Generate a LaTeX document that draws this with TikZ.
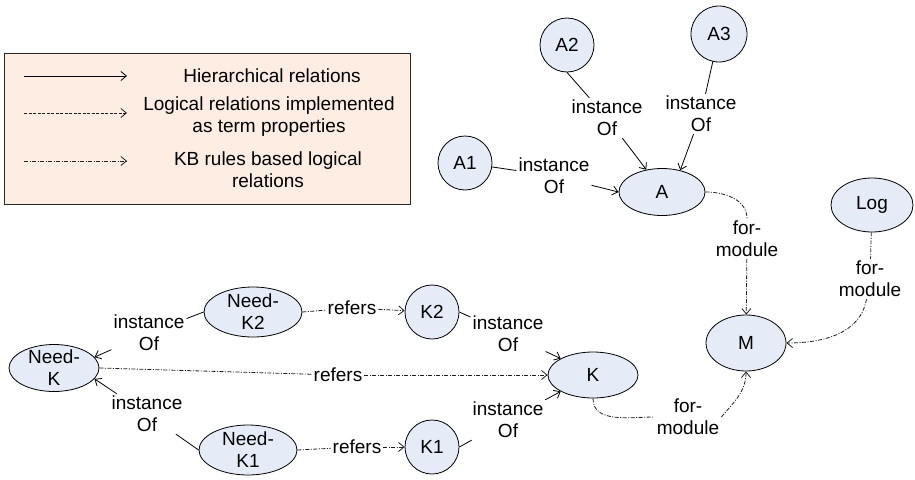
\documentclass[tikz,border=0pt]{standalone}
\usepackage{fontspec}
\setmainfont{Liberation Sans}
\usetikzlibrary{shapes.geometric,arrows.meta}
\definecolor{nodefill}{RGB}{230,236,247}
\definecolor{legendfill}{RGB}{253,237,226}
\definecolor{linkgray}{RGB}{30,30,30}
\begin{document}
\begin{tikzpicture}[x=1pt,y=-1pt,
  font=\fontsize{19}{22}\selectfont,
  concept/.style={ellipse, draw=black, line width=0.8pt, fill=nodefill, inner sep=0pt},
  inst/.style={circle, draw=black, line width=0.8pt, fill=nodefill, inner sep=0pt, minimum size=54pt},
  rel/.style={align=center, inner sep=2pt},
  tip/.style={-{Straight Barb[length=5.5pt,width=9pt]}},
  hier/.style={draw=black, line width=0.8pt},
  hierarrow/.style={hier, tip},
  termprop/.style={draw=linkgray, line width=0.8pt, dash pattern=on 3pt off 1.5pt},
  termarrow/.style={termprop, tip},
  kbrule/.style={draw=linkgray, line width=0.8pt, dash pattern=on 4pt off 1.5pt on 1pt off 1.5pt},
  kbarrow/.style={kbrule, tip},
  legendbox/.style={draw=black!85, line width=0.8pt, fill=legendfill, inner sep=0pt}
]
\useasboundingbox (0,0) rectangle (915,479);

% legend
\node[legendbox, minimum width=406pt, minimum height=151pt] (legend) at (207,128.5) {};
\coordinate (h0) at (24,76);  \coordinate (h1) at (127,76);
\coordinate (t0) at (24,113); \coordinate (t1) at (127,113);
\coordinate (k0) at (24,161); \coordinate (k1) at (127,161);
\draw[hierarrow] (h0) -- (h1);
\draw[termarrow] (t0) -- (t1);
\draw[kbarrow] (k0) -- (k1);
\node[rel] (hlab) at (272,76) {Hierarchical relations};
\node[rel] (tlab) at (269,117) {Logical relations implemented\\as term properties};
\node[rel] (klab) at (268,170) {KB rules based logical\\relations};

% concepts and instances
\node[inst] (A2) at (567,45) {A2};
\node[inst, minimum size=56pt] (A3) at (719,34) {A3};
\node[inst] (A1) at (465,163) {A1};
\node[concept, minimum width=86pt, minimum height=47pt] (A) at (662,192) {A};
\node[concept, minimum width=82pt, minimum height=54pt] (Log) at (872,205) {Log};
\node[concept, minimum width=80pt, minimum height=56pt] (M) at (746,343) {M};
\node[concept, minimum width=90pt, minimum height=46pt] (K) at (593,375) {K};
\node[inst] (K2) at (432,312) {K2};
\node[inst] (K1) at (432,447) {K1};
\node[concept, minimum width=98pt, minimum height=50pt,
  label={[align=center, inner sep=0pt]center:Need-\\K2}] (NK2) at (253,312) {};
\node[concept, minimum width=90pt, minimum height=47pt,
  label={[align=center, inner sep=0pt]center:Need-\\K}] (NK) at (54,368) {};
\node[concept, minimum width=98pt, minimum height=50pt,
  label={[align=center, inner sep=0pt]center:Need-\\K1}] (NK1) at (248,450) {};

% relation labels
\node[rel] (lA2) at (607,118) {instance\\Of};
\node[rel] (lA3) at (701,114) {instance\\Of};
\node[rel] (lA1) at (554,176) {instance\\Of};
\node[rel] (lAM) at (747,239) {for-\\module};
\node[rel] (lLog) at (870,279) {for-\\module};
\node[rel] (lKM) at (688,417) {for-\\module};
\node[rel] (lNK2) at (149,333) {instance\\Of};
\node[rel] (lNK1) at (147,414) {instance\\Of};
\node[rel] (lK2) at (508,334) {instance\\Of};
\node[rel] (lK1) at (508,420) {instance\\Of};
\node[rel] (rK2) at (352,308) {refers};
\node[rel] (rK) at (338,375) {refers};
\node[rel] (rK1) at (357,447) {refers};

% hierarchical relations
\draw[hier] (A2.south) -- (lA2);
\draw[hierarrow] (lA2) -- (A.125);
\draw[hier] (A3) -- (lA3);
\draw[hierarrow] (lA3) -- (A.50);
\draw[hier] (A1) -- (lA1);
\draw[hierarrow] (lA1) -- (A.west);
\draw[hier] (NK2.west) -- (lNK2);
\draw[hierarrow] (lNK2) -- (NK.15);
\draw[hier] (NK1.west) -- (lNK1);
\draw[hierarrow] (lNK1) -- (NK.-15);
\draw[hier] (K2.east) -- (lK2);
\draw[hierarrow] (lK2) -- (K.153);
\draw[hier] (K1.east) -- (lK1);
\draw[hierarrow] (lK1) -- (K.-153);

% KB rule relations
\draw[kbrule] (NK2.east) -- (rK2);
\draw[kbarrow] (rK2) -- (K2);
\draw[kbrule] (NK.east) -- (rK);
\draw[kbarrow] (rK) -- (K.west);
\draw[kbrule] (NK1.east) -- (rK1);
\draw[kbarrow] (rK1) -- (K1);
\draw[kbrule] (A.east) to[out=0,in=90] (lAM);
\draw[kbarrow] (lAM) -- (M);
\draw[kbrule] (Log) -- (lLog);
\draw[kbarrow] (lLog) to[out=-100,in=0] (M);
\draw[kbrule] (K) to[out=-90,in=180] (lKM);
\draw[kbarrow] (lKM.east) to[out=50,in=-90] (M);
\end{tikzpicture}
\end{document}
